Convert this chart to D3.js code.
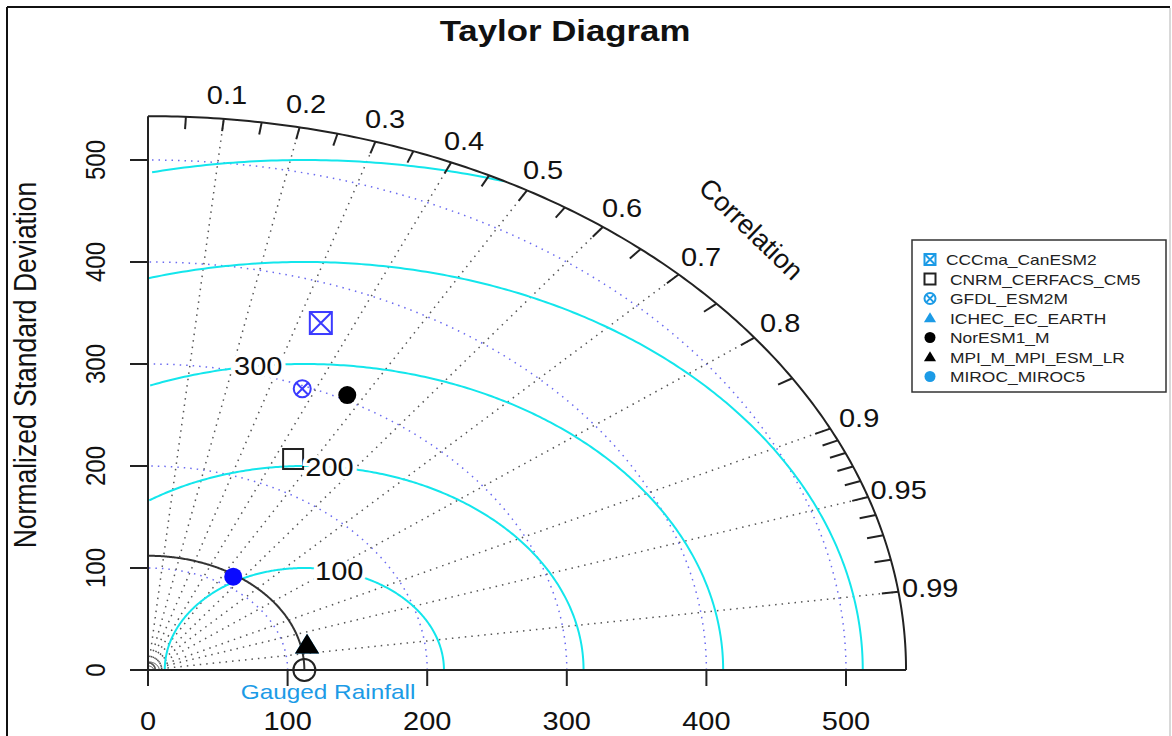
<!DOCTYPE html>
<html>
<head>
<meta charset="utf-8">
<script src="https://cdn.jsdelivr.net/npm/d3@7"></script>
<style>
  body { margin: 0; background: #fff; }
  text { font-family: "Liberation Sans", Arial, Helvetica, sans-serif; }
</style>
</head>
<body>
<div id="chart"></div>
<script>
// model results (standard deviation + correlation vs gauged rainfall)
const models = ["CCCma_CanESM2", "CNRM_CERFACS_CM5", "GFDL_ESM2M", "ICHEC_EC_EARTH",
                "NorESM1_M", "MPI_M_MPI_ESM_LR", "MIROC_MIROC5"];
const modelSD = [362, 231.5, 297, 116.5, 305, 116.5, 110];
const modelCor = [0.342, 0.449, 0.372, 0.978, 0.468, 0.978, 0.555];
const modelShape = ["squareX", "square", "circleX", "triangle", "circle", "triangle", "circle"];
const plotColor = ["#3b3bff", "#222", "#3b3bff", "#1c9be6", "#000", "#000", "#0a0aff"];
const legendColor = ["#1c9be6", "#222", "#1c9be6", "#1c9be6", "#000", "#000", "#1c9be6"];

const refSD = 112;
const refName = "Gauged Rainfall";
const maxSD = 543;

const sdTicks = [0, 100, 200, 300, 400, 500];
const corLabels = [0.1, 0.2, 0.3, 0.4, 0.5, 0.6, 0.7, 0.8, 0.9, 0.95, 0.99];
const rmsLevels = [100, 200, 300, 400, 500];
const rmsLabelLevels = [100, 200, 300];
const rmsLabelX = [137, 130, 79];

const W = 1172, H = 736;
// the original png was stretched sideways, text included
const SX = 1.16;

const svg = d3.select("#chart").append("svg")
    .attr("width", W)
    .attr("height", H);

// frame of the exported figure
svg.append("line").attr("x1", 7).attr("x2", 1170).attr("y1", 7).attr("y2", 7)
    .attr("stroke", "#111").attr("stroke-width", 2);
svg.append("line").attr("x1", 7).attr("x2", 7).attr("y1", 7).attr("y2", H)
    .attr("stroke", "#111").attr("stroke-width", 2);
svg.append("line").attr("x1", 1170).attr("x2", 1170).attr("y1", 8).attr("y2", H)
    .attr("stroke", "#ccc").attr("stroke-width", 1.5);

// the R plot was stretched, so x and y get their own scales
const x = d3.scaleLinear().domain([0, maxSD]).range([148, 148 + maxSD * 1.396]);
const y = d3.scaleLinear().domain([0, maxSD]).range([670, 670 - maxSD * 1.02]);

const line = d3.line()
    .defined(d => d != null)
    .x(d => x(d[0]))
    .y(d => y(d[1]));

function arcPoints(r, cx) {
    const pts = [];
    for (let i = 0; i <= 400; i++) {
        const t = Math.PI * i / 400;
        const px = cx + r * Math.cos(t), py = r * Math.sin(t);
        if (px < 0 || Math.hypot(px, py) > maxSD) pts.push(null);
        else pts.push([px, py]);
    }
    return pts;
}

function quarter(r) {
    return d3.range(0, 201).map(i => {
        const t = Math.PI / 2 * i / 200;
        return [r * Math.cos(t), r * Math.sin(t)];
    });
}

// place a horizontally stretched label
function label(sel, px, py, txt, size) {
    return sel.append("text")
        .attr("transform", `translate(${px},${py}) scale(${SX},1)`)
        .attr("text-anchor", "middle")
        .attr("dominant-baseline", "central")
        .attr("font-size", size)
        .attr("fill", "#111")
        .text(txt);
}

const g = svg.append("g");

// sd gridlines (blue dotted)
g.selectAll(".sdgrid")
    .data(sdTicks.filter(d => d > 0))
    .enter().append("path")
    .attr("d", d => line(quarter(d)))
    .attr("fill", "none")
    .attr("stroke", "#6a6af0")
    .attr("stroke-width", 1.5)
    .attr("stroke-dasharray", "1.5,5");

// correlation rays
g.selectAll(".ray")
    .data(corLabels)
    .enter().append("path")
    .attr("d", c => line([[0, 0], [maxSD * c, maxSD * Math.sqrt(1 - c * c)]]))
    .attr("stroke", "#555")
    .attr("stroke-width", 1.5)
    .attr("stroke-dasharray", "1.5,5");

// tiny arcs near the origin
g.selectAll(".tiny")
    .data([4, 8])
    .enter().append("path")
    .attr("d", d => line(quarter(d)))
    .attr("fill", "none")
    .attr("stroke", "#444")
    .attr("stroke-width", 1);

// centred RMS contours
g.selectAll(".rms")
    .data(rmsLevels)
    .enter().append("path")
    .attr("d", r => line(arcPoints(r, refSD)))
    .attr("fill", "none")
    .attr("stroke", "#13e6ec")
    .attr("stroke-width", 2);

// reference sd arc
g.append("path")
    .attr("d", line(quarter(refSD)))
    .attr("fill", "none")
    .attr("stroke", "#333")
    .attr("stroke-width", 2);

// outer arc + axes
g.append("path")
    .attr("d", line(quarter(maxSD)))
    .attr("fill", "none")
    .attr("stroke", "#222")
    .attr("stroke-width", 2);
g.append("line")
    .attr("x1", x(0)).attr("x2", x(0)).attr("y1", y(0)).attr("y2", y(maxSD))
    .attr("stroke", "#222").attr("stroke-width", 2);
g.append("line")
    .attr("x1", x(0)).attr("x2", x(maxSD)).attr("y1", y(0)).attr("y2", y(0))
    .attr("stroke", "#222").attr("stroke-width", 2);

// ticks on the outer arc
const arcTicks = d3.range(1, 19).map(i => i * 0.05).concat(d3.range(91, 100).map(i => i / 100));
g.selectAll(".atick")
    .data(arcTicks)
    .enter().append("path")
    .attr("d", c => {
        const s = Math.sqrt(1 - c * c);
        return line([[maxSD * c, maxSD * s], [(maxSD - 12) * c, (maxSD - 12) * s]]);
    })
    .attr("stroke", "#222")
    .attr("stroke-width", 2);

const fs = 25;
corLabels.forEach(c => {
    label(g, x(566 * c), y(566 * Math.sqrt(1 - c * c)), c, fs);
});

const corTitleR = 611, corTitleC = 0.707;
svg.append("text")
    .attr("transform", `translate(${x(corTitleR * corTitleC)},${y(corTitleR * Math.sqrt(1 - corTitleC * corTitleC))}) rotate(44)`)
    .attr("text-anchor", "middle")
    .attr("dominant-baseline", "central")
    .attr("font-size", 27)
    .attr("fill", "#111")
    .text("Correlation");

// x axis ticks/labels
const xAxis = svg.append("g");
xAxis.selectAll("line").data(sdTicks).enter().append("line")
    .attr("x1", d => x(d)).attr("x2", d => x(d))
    .attr("y1", y(0)).attr("y2", y(0) + 16)
    .attr("stroke", "#222").attr("stroke-width", 2);
sdTicks.forEach(d => label(xAxis, x(d), 721, d, fs));

// y axis ticks/labels
const yAxis = svg.append("g");
yAxis.selectAll("line").data(sdTicks).enter().append("line")
    .attr("x1", x(0) - 18).attr("x2", x(0))
    .attr("y1", d => y(d)).attr("y2", d => y(d))
    .attr("stroke", "#222").attr("stroke-width", 2);
yAxis.selectAll("text").data(sdTicks).enter().append("text")
    .attr("transform", d => `translate(95,${y(d)}) rotate(-90) scale(1,${SX})`)
    .attr("text-anchor", "middle")
    .attr("dominant-baseline", "central")
    .attr("font-size", 24)
    .attr("fill", "#111")
    .text(d => d);

svg.append("text")
    .attr("transform", `translate(25,365) rotate(-90) scale(1,${SX})`)
    .attr("text-anchor", "middle")
    .attr("dominant-baseline", "central")
    .attr("font-size", 26.5)
    .attr("fill", "#111")
    .text("Normalized Standard Deviation");

label(svg, 565, 31, "Taylor Diagram", 30).attr("font-weight", "bold");

// marker drawing
function drawMarker(sel, shape, color, size) {
    const h = size / 2;
    if (shape === "square" || shape === "squareX") {
        sel.append("rect").attr("x", -h).attr("y", -h).attr("width", size).attr("height", size)
            .attr("fill", "none").attr("stroke", color).attr("stroke-width", 2);
        if (shape === "squareX") {
            sel.append("path").attr("d", `M${-h},${-h}L${h},${h}M${-h},${h}L${h},${-h}`)
                .attr("stroke", color).attr("stroke-width", 2);
        }
    } else if (shape === "circleX") {
        sel.append("circle").attr("r", h).attr("fill", "none").attr("stroke", color).attr("stroke-width", 2);
        const k = h * 0.707;
        sel.append("path").attr("d", `M${-k},${-k}L${k},${k}M${-k},${k}L${k},${-k}`)
            .attr("stroke", color).attr("stroke-width", 2);
    } else if (shape === "circle") {
        sel.append("circle").attr("r", h).attr("fill", color);
    } else if (shape === "triangle") {
        sel.append("path").attr("d", `M0,${-h * 1.05}L${h * 1.1},${h * 0.75}L${-h * 1.1},${h * 0.75}Z`)
            .attr("fill", color);
    }
}

// reference point
const ref = svg.append("g").attr("transform", `translate(${x(refSD)},${y(0)})`);
ref.append("circle").attr("r", 11).attr("fill", "none").attr("stroke", "#222").attr("stroke-width", 2);
label(svg, 328, 692, refName, 21).attr("fill", "#1c9be6");

// model points
const plotSize = [22, 20, 17, 22, 18, 22, 18];
models.forEach((m, i) => {
    const c = modelCor[i], s = modelSD[i];
    const mg = svg.append("g")
        .attr("transform", `translate(${x(s * c)},${y(s * Math.sqrt(1 - c * c))})`);
    drawMarker(mg, modelShape[i], plotColor[i], plotSize[i]);
});

// RMS contour labels (white halo breaks the line)
rmsLabelLevels.forEach((r, i) => {
    const dx = rmsLabelX[i] - refSD;
    label(svg, x(rmsLabelX[i]), y(Math.sqrt(r * r - dx * dx)), r, fs)
        .attr("stroke", "#fff")
        .attr("stroke-width", 7)
        .attr("paint-order", "stroke");
});

// legend
const lg = svg.append("g").attr("transform", "translate(912,240)");
lg.append("rect").attr("width", 254).attr("height", 152)
    .attr("fill", "#fff").attr("stroke", "#333").attr("stroke-width", 1.5);
models.forEach((m, i) => {
    const row = lg.append("g").attr("transform", `translate(18,${19.5 + i * 19.5})`);
    drawMarker(row, modelShape[i], legendColor[i], 11);
    row.append("text")
        .attr("transform", `translate(${16 + (i === 0 ? 0 : 4)},0) scale(${SX},1)`)
        .attr("dominant-baseline", "central")
        .attr("font-size", 15)
        .attr("fill", "#222")
        .text(m);
});
</script>
</body>
</html>
